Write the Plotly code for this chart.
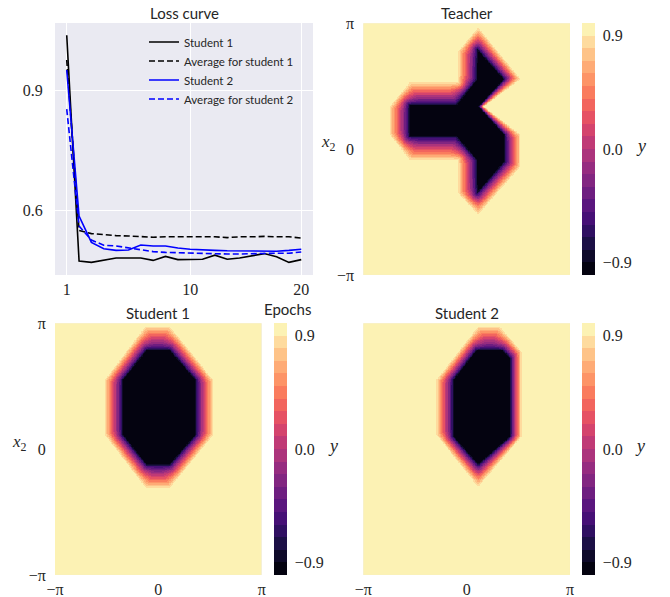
import numpy as np
import plotly.graph_objects as go

# ---------------- data ----------------
epochs = list(range(1, 21))
student1_loss = [1.037, 0.4725, 0.469, 0.475, 0.480, 0.480, 0.480, 0.474, 0.484, 0.476,
                 0.477, 0.477, 0.487, 0.477, 0.480, 0.485, 0.491, 0.483, 0.469, 0.476]
student1_avg = [0.975, 0.549, 0.541, 0.538, 0.536, 0.535, 0.533, 0.532, 0.533, 0.533,
                0.533, 0.533, 0.533, 0.531, 0.533, 0.533, 0.534, 0.533, 0.533, 0.530]
student2_loss = [0.950, 0.585, 0.519, 0.503, 0.499, 0.500, 0.5125, 0.510, 0.510, 0.505,
                 0.502, 0.500, 0.499, 0.498, 0.4975, 0.497, 0.496, 0.497, 0.499, 0.502]
student2_avg = [0.852, 0.560, 0.525, 0.512, 0.510, 0.505, 0.500, 0.496, 0.494, 0.493,
                0.493, 0.492, 0.491, 0.490, 0.490, 0.491, 0.491, 0.492, 0.492, 0.495]
epoch_tickvals = [1, 11, 20]
epoch_ticktext = ["1", "10", "20"]
loss_tickvals = [0.6, 0.9]
loss_ticktext = ["0.6", "0.9"]

# region boundaries (units of pi): inner = visible dark edge, outer = visible yellow edge
teacher_inner = [(0.105, 0.793), (0.366, 0.555), (0.120, 0.337), (0.371, 0.112), (0.371, -0.100),
                 (0.103, -0.351), (0.097, -0.086), (-0.096, 0.099), (-0.555, 0.099), (-0.555, 0.351),
                 (-0.096, 0.351), (0.097, 0.549)]
teacher_outer = [(0.113, 0.968), (0.523, 0.555), (0.168, 0.337), (0.523, 0.112), (0.523, -0.139),
                 (0.113, -0.523), (-0.081, -0.351), (-0.081, -0.086), (-0.548, -0.086), (-0.742, 0.112),
                 (-0.742, 0.337), (-0.548, 0.528), (-0.081, 0.528), (-0.081, 0.774)]
student1_inner = [(-0.113, 0.788), (0.113, 0.788), (0.364, 0.549), (0.364, 0.112), (0.113, -0.126),
                  (-0.113, -0.126), (-0.345, 0.112), (-0.345, 0.549)]
student1_outer = [(-0.125, 0.973), (0.113, 0.973), (0.532, 0.549), (0.532, 0.112), (0.113, -0.311),
                  (-0.119, -0.311), (-0.516, 0.112), (-0.516, 0.549)]
student2_inner = [(0.097, 0.788), (0.349, 0.788), (0.426, 0.722), (0.426, 0.099), (0.113, -0.126),
                  (-0.129, 0.099), (-0.129, 0.549)]
student2_outer = [(0.113, 0.973), (0.323, 0.973), (0.533, 0.774), (0.533, 0.099), (0.113, -0.303),
                  (-0.290, 0.112), (-0.290, 0.549)]

cbar_tickvals = [-0.9, 0.0, 0.9]
cbar_ticktext = ["\u22120.9", "0.0", "0.9"]
angle_tickvals = [-np.pi, 0.0, np.pi]
angle_ticktext = ["\u2212\u03c0", "0", "\u03c0"]

magma_anchors = ["#000004", "#07061c", "#140e36", "#251255", "#3b0f70", "#51127c", "#641a80",
                 "#782281", "#8c2981", "#a1307e", "#b73779", "#ca3e72", "#de4968", "#ed5a5f",
                 "#f7705c", "#fc8961", "#fe9f6d", "#feb77e", "#fecf92", "#fde7a9", "#fcfdbf"]
n_levels = 20

# ---------------- helpers ----------------
def hex2rgb(h):
    return np.array([int(h[i:i + 2], 16) for i in (1, 3, 5)], float)

def magma(t):
    pos = t * (len(magma_anchors) - 1)
    i = min(int(np.floor(pos)), len(magma_anchors) - 2)
    f = pos - i
    c = hex2rgb(magma_anchors[i]) * (1 - f) + hex2rgb(magma_anchors[i + 1]) * f
    return "rgb(%d,%d,%d)" % tuple(np.round(c).astype(int))

colorscale = []
for k in range(n_levels):
    c = magma((k + 0.5) / n_levels)
    colorscale.append([k / n_levels, c])
    colorscale.append([(k + 1) / n_levels, c])

ASPECT = 251.7 / 206.7  # pixel aspect of the heatmap panels
Z_DARK, Z_LIGHT, GAMMA, RAMP = -0.85, 0.9, 0.8, 0.17

def inside(X, Y, poly):
    res = np.zeros(X.shape, bool)
    n = len(poly)
    for i in range(n):
        x0, y0 = poly[i]
        x1, y1 = poly[(i + 1) % n]
        if y1 == y0:
            continue
        cond = (y0 > Y) != (y1 > Y)
        xint = x0 + (Y - y0) * (x1 - x0) / (y1 - y0)
        res ^= cond & (X < xint)
    return res

def bdist(X, Y, poly):
    d = np.full(X.shape, np.inf)
    n = len(poly)
    Ys = Y * ASPECT
    for i in range(n):
        x0, y0 = poly[i]
        x1, y1 = poly[(i + 1) % n]
        y0s, y1s = y0 * ASPECT, y1 * ASPECT
        dx, dy = x1 - x0, y1s - y0s
        t = np.clip(((X - x0) * dx + (Ys - y0s) * dy) / (dx * dx + dy * dy), 0, 1)
        d = np.minimum(d, np.hypot(X - (x0 + t * dx), Ys - (y0s + t * dy)))
    return d

grid = np.linspace(-1, 1, 330)
GX, GY = np.meshgrid(grid, grid)

def field(inner, outer):
    ins_in = inside(GX, GY, inner)
    ins_out = inside(GX, GY, outer)
    din = bdist(GX, GY, inner)
    dout = bdist(GX, GY, outer)
    s = din / (din + dout + 1e-12)
    z = Z_DARK + (Z_LIGHT - Z_DARK) * s ** GAMMA
    z_core = np.maximum(-1.0, Z_DARK - (Z_LIGHT - Z_DARK) * din / RAMP)
    z = np.where(ins_in, z_core, z)
    z = np.where(~ins_out, 1.0, z)
    return np.clip(z, -1, 1)

# ---------------- figure ----------------
W, H = 670, 597
def px(x):
    return x / W
def py(y):
    return 1 - y / H

TEXT = "#262626"
SANS = "Lato"
SERIF = "Liberation Serif"

fig = go.Figure()

fig.add_trace(go.Scatter(x=epochs, y=student1_loss, mode="lines", name="Student 1",
                         line=dict(color="black", width=1.6), xaxis="x", yaxis="y"))
fig.add_trace(go.Scatter(x=epochs, y=student1_avg, mode="lines", name="Average for student 1",
                         line=dict(color="black", width=1.6, dash="6px,3px"), xaxis="x", yaxis="y"))
fig.add_trace(go.Scatter(x=epochs, y=student2_loss, mode="lines", name="Student 2",
                         line=dict(color="#0000ff", width=1.6), xaxis="x", yaxis="y"))
fig.add_trace(go.Scatter(x=epochs, y=student2_avg, mode="lines", name="Average for student 2",
                         line=dict(color="#0000ff", width=1.6, dash="6px,3px"), xaxis="x", yaxis="y"))

coords = grid * np.pi
panels = [("x2", "y2", teacher_inner, teacher_outer, px(582), py(149.2)),
          ("x3", "y3", student1_inner, student1_outer, px(274), py(449.2)),
          ("x4", "y4", student2_inner, student2_outer, px(582), py(449.2))]
for xa, ya, inner, outer, cbx, cby in panels:
    fig.add_trace(go.Heatmap(
        x=coords, y=coords, z=field(inner, outer), zmin=-1, zmax=1,
        colorscale=colorscale, xaxis=xa, yaxis=ya, showlegend=False, hoverinfo="skip",
        colorbar=dict(x=cbx, xanchor="left", y=cby, yanchor="middle",
                      len=251.7 / H, lenmode="fraction", thickness=13, thicknessmode="pixels",
                      xpad=0, ypad=0, outlinewidth=0, tickvals=cbar_tickvals, ticktext=cbar_ticktext,
                      ticks="outside", ticklen=5, tickcolor="rgba(0,0,0,0)",
                      tickfont=dict(family=SERIF, size=16, color=TEXT))))

axis_common = dict(showgrid=False, zeroline=False, showline=False, ticks="outside",
                   ticklen=5, tickcolor="rgba(0,0,0,0)", automargin=False,
                   tickfont=dict(family=SERIF, size=16, color=TEXT))
heat_x = dict(axis_common, range=[-np.pi, np.pi], tickvals=angle_tickvals, ticktext=angle_ticktext)
heat_y = dict(axis_common, range=[-np.pi, np.pi], tickvals=angle_tickvals, ticktext=angle_ticktext)

fig.update_layout(
    width=W, height=H, margin=dict(l=0, r=0, t=0, b=0, autoexpand=False),
    paper_bgcolor="white", plot_bgcolor="#EAEAF2",
    showlegend=True,
    legend=dict(x=px(144), y=py(27.5), xanchor="left", yanchor="top", bgcolor="rgba(0,0,0,0)",
                borderwidth=0, font=dict(family=SANS, size=11.5, color=TEXT), tracegroupgap=0),
    xaxis=dict(axis_common, domain=[px(55), px(313)], range=[0.05, 20.95], showgrid=True,
               gridcolor="white", gridwidth=1.3, tickvals=epoch_tickvals, ticktext=epoch_ticktext,
               ticklen=0, anchor="y"),
    yaxis=dict(axis_common, domain=[py(275), py(23)], range=[0.4375, 1.0675], showgrid=True,
               gridcolor="white", gridwidth=1.3, tickvals=loss_tickvals, ticktext=loss_ticktext,
               ticklen=8, anchor="x"),
    xaxis2=dict(heat_x, domain=[px(363.3), px(570)], anchor="y2", showticklabels=False),
    yaxis2=dict(heat_y, domain=[py(275), py(23.3)], anchor="x2"),
    xaxis3=dict(heat_x, domain=[px(55), px(261.7)], anchor="y3", ticklen=0),
    yaxis3=dict(heat_y, domain=[py(575), py(323.3)], anchor="x3"),
    xaxis4=dict(heat_x, domain=[px(363.3), px(570)], anchor="y4", ticklen=0),
    yaxis4=dict(heat_y, domain=[py(575), py(323.3)], anchor="x4", showticklabels=False),
)

def label(text, x, y, size, family, xanchor="center"):
    fig.add_annotation(text=text, x=px(x), y=py(y), xref="paper", yref="paper",
                       xanchor=xanchor, yanchor="middle", showarrow=False,
                       font=dict(family=family, size=size, color=TEXT))

label("Loss curve", 184, 13, 15, SANS)
label("Teacher", 467, 13, 15, SANS)
label("Student 1", 158, 312.5, 15, SANS)
label("Student 2", 466.5, 312.5, 15, SANS)
label("Epochs", 313, 308.5, 15, SANS, xanchor="right")
label("<i>x</i><sub>2</sub>", 328.5, 143, 17, SERIF)
label("<i>x</i><sub>2</sub>", 19, 443, 17, SERIF)
label("<i>y</i>", 641, 146, 18, SERIF)
label("<i>y</i>", 333, 446, 18, SERIF)
label("<i>y</i>", 640, 446, 18, SERIF)

fig.write_html("out.html", config={"displayModeBar": False},
               post_script="document.body.style.margin='0px';document.body.style.padding='0px';")
